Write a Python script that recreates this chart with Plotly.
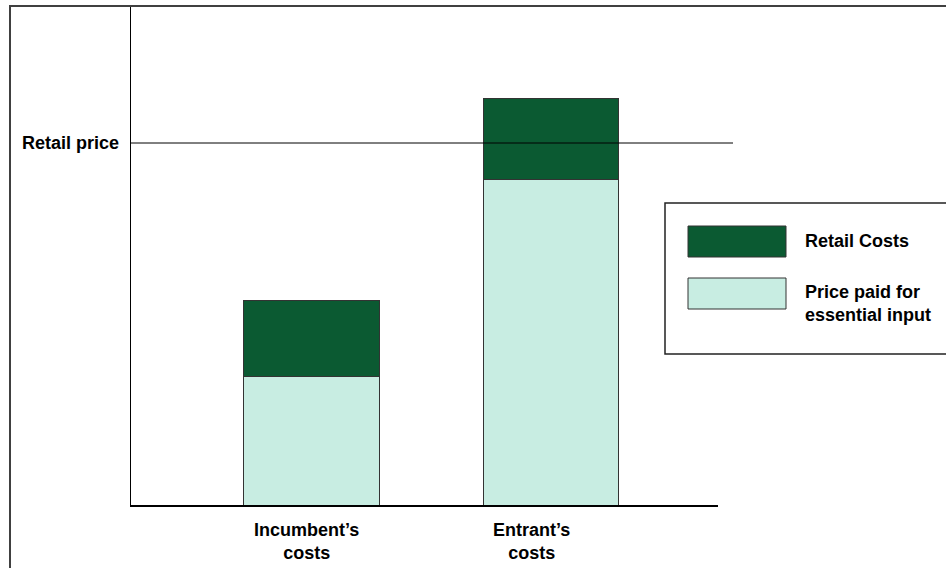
import plotly.graph_objects as go

# Cost stacks for each supplier (retail price = 100)
categories = ["Incumbent’s", "Entrant’s"]
tick_labels = ["Incumbent’s<br>costs", "Entrant’s<br>costs"]
input_price = [35.4, 90.0]
retail_costs = [21.0, 22.4]
retail_price = 100.0
series_names = ["Retail Costs", "Price paid for<br>essential input"]

DARK = "#0b5a32"
LIGHT = "#c8ede2"
EDGE = "#333333"
FONT = "Liberation Sans, Arial, sans-serif"

W, H = 946, 568
L, R, T, B = 131, 718, 6, 505
pw, ph = R - L, B - T


def px(x):
    return (x - L) / pw


def py(y):
    return (B - y) / ph


fig = go.Figure()
fig.add_trace(go.Bar(x=categories, y=input_price, name=series_names[1],
                     marker=dict(color=LIGHT, line=dict(color=EDGE, width=1)),
                     width=0.564, showlegend=False))
fig.add_trace(go.Bar(x=categories, y=retail_costs, name=series_names[0],
                     marker=dict(color=DARK, line=dict(color=EDGE, width=1)),
                     width=0.564, showlegend=False))

shapes = []
# outer frame
shapes.append(dict(type="rect", xref="paper", yref="paper",
                   x0=px(10), x1=px(W + 20), y0=py(H + 20), y1=py(6),
                   line=dict(color="#404040", width=2), fillcolor="rgba(0,0,0,0)",
                   layer="above"))
# retail price line
shapes.append(dict(type="line", xref="paper", yref="y",
                   x0=0, x1=px(733), y0=retail_price, y1=retail_price,
                   line=dict(color="black", width=1), layer="above"))
# legend box and swatches
shapes.append(dict(type="rect", xref="paper", yref="paper",
                   x0=px(665), x1=px(W + 20), y0=py(354), y1=py(203),
                   line=dict(color="#222222", width=1.5), fillcolor="white",
                   layer="above"))
shapes.append(dict(type="rect", xref="paper", yref="paper",
                   x0=px(688), x1=px(786), y0=py(257), y1=py(226),
                   line=dict(color=EDGE, width=1), fillcolor=DARK, layer="above"))
shapes.append(dict(type="rect", xref="paper", yref="paper",
                   x0=px(688), x1=px(786), y0=py(309), y1=py(278),
                   line=dict(color=EDGE, width=1), fillcolor=LIGHT, layer="above"))

font = dict(family=FONT, size=18, color="black")
annotations = [
    dict(text="<b>Retail price</b>", xref="paper", yref="y", x=0, y=retail_price,
         xanchor="right", yanchor="middle", xshift=-10, showarrow=False, font=font),
    dict(text="<b>%s</b>" % series_names[0], xref="paper", yref="paper",
         x=px(803), y=py(241), xanchor="left", yanchor="middle",
         showarrow=False, font=font),
    dict(text="<b>%s</b>" % series_names[1], xref="paper", yref="paper",
         x=px(803), y=py(304), xanchor="left", yanchor="middle", align="left",
         showarrow=False, font=font),
]
for cat, lab, shift in zip(categories, tick_labels, [-5, -20]):
    annotations.append(dict(text="<b>%s</b>" % lab, xref="x", yref="paper",
                            x=cat, y=py(541), xanchor="center", yanchor="middle",
                            xshift=shift, showarrow=False, font=font))

fig.update_layout(
    barmode="stack",
    width=W, height=H,
    margin=dict(l=L, r=W - R, t=T, b=H - B, pad=0),
    paper_bgcolor="white", plot_bgcolor="white",
    shapes=shapes, annotations=annotations,
    xaxis=dict(range=[-0.7537, 1.697], showticklabels=False, ticks="",
               showgrid=False, zeroline=False, showline=True,
               linecolor="black", linewidth=1.5),
    yaxis=dict(range=[0, (B - T) / 3.62], showticklabels=False, ticks="",
               showgrid=False, zeroline=False, showline=True,
               linecolor="black", linewidth=1),
    showlegend=False,
)

fig.write_html("out.html")
